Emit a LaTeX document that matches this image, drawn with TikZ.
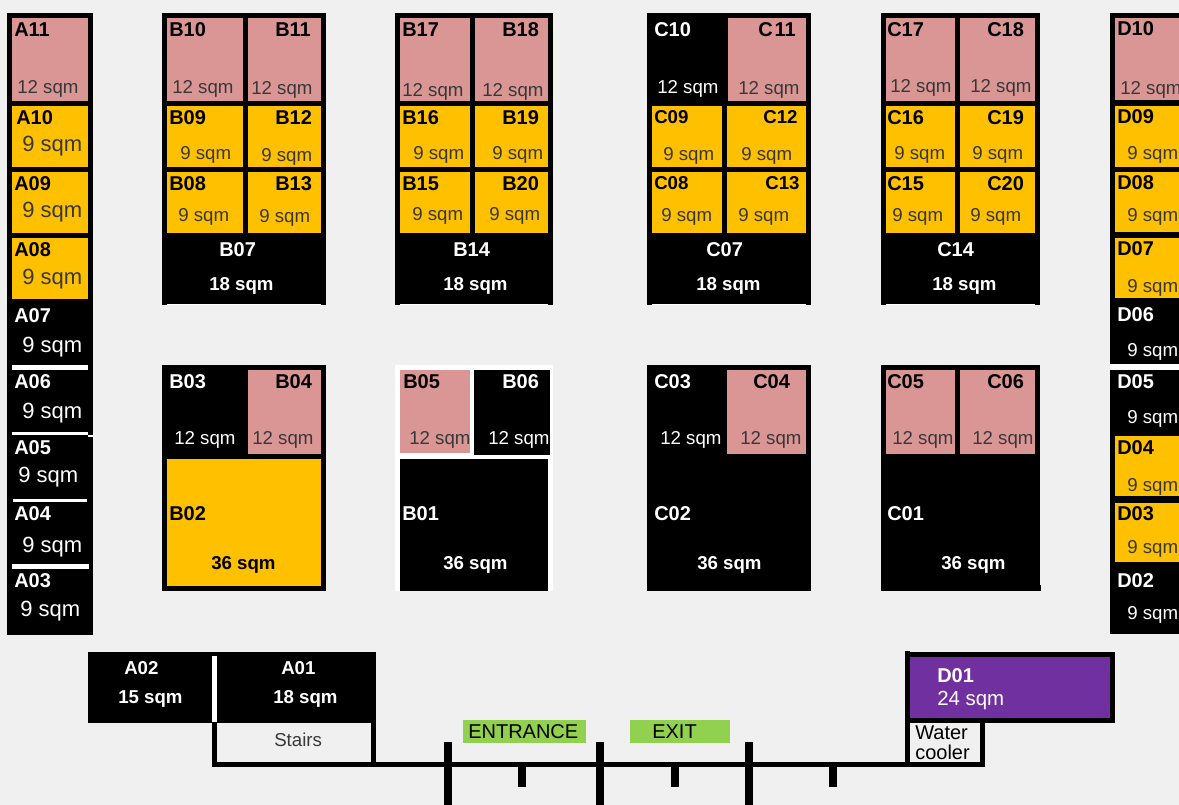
\documentclass[tikz,border=0pt]{standalone}
\usepackage{fontspec}
\setmainfont{Liberation Sans}
\definecolor{hallgrey}{RGB}{240,240,240}
\definecolor{stallpink}{RGB}{218,150,148}
\definecolor{stallamber}{RGB}{255,192,0}
\definecolor{stallpurple}{RGB}{112,48,160}
\definecolor{signgreen}{RGB}{146,208,80}
\definecolor{sqmgrey}{RGB}{56,56,56}
\tikzset{
x=0.75pt, % one unit is one pixel of the plan
y=-0.75pt,
box/.style 2 args={anchor=north west, inner sep=0pt, outer sep=0pt, minimum width=#1*0.75pt, minimum height=#2*0.75pt},
pink/.style={fill=stallpink},
amber/.style={fill=stallamber},
dark/.style={fill=black},
gap/.style={fill=white},
purple/.style={fill=stallpurple},
sign/.style={fill=signgreen},
tag/.style={anchor=base west, inner sep=0pt, yshift=-0.75pt, font=\bfseries\fontsize{15}{15}\selectfont}, % stall number
tagsmall/.style={tag, font=\bfseries\fontsize{14}{14}\selectfont},
area/.style={anchor=base west, inner sep=0pt, yshift=-0.75pt, text=sqmgrey, font=\fontsize{14}{14}\selectfont}, % size of the stall
areabig/.style={area, font=\fontsize{16.5}{16.5}\selectfont},
areabold/.style={anchor=base west, inner sep=0pt, yshift=-0.75pt, font=\bfseries\fontsize{14}{14}\selectfont},
wall/.style={line width=3.75pt},
post/.style={line width=6pt},
}
\begin{document}
\begin{tikzpicture}
      \useasboundingbox (0,0) rectangle (1179,805);
      \clip (0,0) rectangle (1179,805);
      \fill[hallgrey] (0,0) rectangle (1179,805);

      % row A
      \node[dark, box={86}{622}] (Arow) at (7,13) {};
      \node[pink, box={76}{83}] (A11) at (12,18) {};
      \node[amber, box={76}{61}] (A10) at (12,106) {};
      \node[amber, box={76}{61}] (A09) at (12,172) {};
      \node[amber, box={76}{61}] (A08) at (12,238) {};
      \node[gap, box={76}{5}] (A67) at (12,365) {};
      \node[gap, box={76}{3}] (A56) at (12,432) {};
      \node[gap, box={5}{2}] (A56b) at (88,435) {};
      \node[gap, box={74}{3}] (A45) at (13,499) {};
      \node[gap, box={77}{5}] (A34) at (12,564) {};
      \node[tag] (tA11) at (14,36) {A11};
      \node[area] (sA11) at (17,93) {12 sqm};
      \node[tag] (tA10) at (16,124) {A10};
      \node[areabig] (sA10) at (22,151) {9 sqm};
      \node[tag] (tA09) at (14,190) {A09};
      \node[areabig] (sA09) at (22,217) {9 sqm};
      \node[tag] (tA08) at (14,256) {A08};
      \node[areabig] (sA08) at (22,284) {9 sqm};
      \node[tag, white] (tA07) at (14,322) {A07};
      \node[areabig, text=white] (sA07) at (22,352) {9 sqm};
      \node[tag, white] (tA06) at (14,388) {A06};
      \node[areabig, text=white] (sA06) at (22,418) {9 sqm};
      \node[tag, white] (tA05) at (14,454) {A05};
      \node[areabig, text=white] (sA05) at (18,482) {9 sqm};
      \node[tag, white] (tA04) at (14,520) {A04};
      \node[areabig, text=white] (sA04) at (22,552) {9 sqm};
      \node[tag, white] (tA03) at (14,586) {A03};
      \node[areabig, text=white] (sA03) at (20,616) {9 sqm};

      % block B07
      \node[dark, box={164}{292}] (Bup) at (162,13) {};
      \node[gap, box={154}{1}] (Bupedge) at (167,304) {};
      \node[pink, box={76}{83}] (B10) at (167,18) {};
      \node[pink, box={73}{83}] (B11) at (248,18) {};
      \node[amber, box={76}{61}] (B09) at (167,106) {};
      \node[amber, box={73}{61}] (B12) at (248,106) {};
      \node[amber, box={76}{61}] (B08) at (167,172) {};
      \node[amber, box={73}{61}] (B13) at (248,172) {};
      \node[tag] (tB10) at (169,36) {B10};
      \node[area] (sB10) at (172,93) {12 sqm};
      \node[tag] (tB11) at (275,36) {B11};
      \node[area] (sB11) at (251,94) {12 sqm};
      \node[tag] (tB09) at (169,124) {B09};
      \node[area] (sB09) at (180,159) {9 sqm};
      \node[tag] (tB12) at (275,124) {B12};
      \node[area] (sB12) at (261,161) {9 sqm};
      \node[tag] (tB08) at (169,190) {B08};
      \node[area] (sB08) at (178,221) {9 sqm};
      \node[tag] (tB13) at (275,190) {B13};
      \node[area] (sB13) at (259,222) {9 sqm};
      \node[tag, white] (tB07) at (219,256) {B07};
      \node[areabold, white] (sB07) at (209,290) {18 sqm};

      % block B14
      \node[dark, box={158}{292}] (Cup) at (395,13) {};
      \node[gap, box={148}{1}] (Cupedge) at (400,304) {};
      \node[pink, box={70}{83}] (B17) at (400,18) {};
      \node[pink, box={73}{83}] (B18) at (475,18) {};
      \node[amber, box={70}{61}] (B16) at (400,106) {};
      \node[amber, box={73}{61}] (B19) at (475,106) {};
      \node[amber, box={70}{61}] (B15) at (400,172) {};
      \node[amber, box={73}{61}] (B20) at (475,172) {};
      \node[tag] (tB17) at (402,36) {B17};
      \node[area] (sB17) at (402,96) {12 sqm};
      \node[tag] (tB18) at (502,36) {B18};
      \node[area] (sB18) at (482,96) {12 sqm};
      \node[tag] (tB16) at (402,124) {B16};
      \node[area] (sB16) at (413,159) {9 sqm};
      \node[tag] (tB19) at (502,124) {B19};
      \node[area] (sB19) at (492,159) {9 sqm};
      \node[tag] (tB15) at (402,190) {B15};
      \node[area] (sB15) at (412,220) {9 sqm};
      \node[tag] (tB20) at (502,190) {B20};
      \node[area] (sB20) at (489,220) {9 sqm};
      \node[tag, white] (tB14) at (453,256) {B14};
      \node[areabold, white] (sB14) at (443,290) {18 sqm};

      % block C07
      \node[dark, box={164}{292}] (Dup) at (647,13) {};
      \node[gap, box={154}{1}] (Dupedge) at (652,304) {};
      \node[pink, box={78}{83}] (C11) at (728,18) {};
      \node[amber, box={70}{61}] (C09) at (652,106) {};
      \node[amber, box={79}{61}] (C12) at (727,106) {};
      \node[amber, box={70}{61}] (C08) at (652,172) {};
      \node[amber, box={79}{61}] (C13) at (727,172) {};
      \node[tag, white] (tC10) at (654,36) {C10};
      \node[area, text=white] (sC10) at (657,93) {12 sqm};
      \node[tag] (tC11) at (758,36) {C\kern1.5pt 11};
      \node[area] (sC11) at (738,94) {12 sqm};
      \node[tagsmall] (tC09) at (654,123) {C09};
      \node[area] (sC09) at (663,160) {9 sqm};
      \node[tagsmall] (tC12) at (763,123) {C12};
      \node[area] (sC12) at (741,160) {9 sqm};
      \node[tagsmall] (tC08) at (654,189) {C08};
      \node[area] (sC08) at (661,221) {9 sqm};
      \node[tagsmall] (tC13) at (765,189) {C13};
      \node[area] (sC13) at (738,221) {9 sqm};
      \node[tag, white] (tC07) at (706,256) {C07};
      \node[areabold, white] (sC07) at (696,290) {18 sqm};

      % block C14
      \node[dark, box={159}{292}] (Eup) at (881,13) {};
      \node[gap, box={149}{1}] (Eupedge) at (886,304) {};
      \node[pink, box={69}{83}] (C17) at (886,18) {};
      \node[pink, box={75}{83}] (C18) at (960,18) {};
      \node[amber, box={69}{61}] (C16) at (886,106) {};
      \node[amber, box={75}{61}] (C19) at (960,106) {};
      \node[amber, box={69}{61}] (C15) at (886,172) {};
      \node[amber, box={75}{61}] (C20) at (960,172) {};
      \node[tag] (tC17) at (887,36) {C17};
      \node[area] (sC17) at (890,92) {12 sqm};
      \node[tag] (tC18) at (987,36) {C18};
      \node[area] (sC18) at (970,92) {12 sqm};
      \node[tag] (tC16) at (887,124) {C16};
      \node[area] (sC16) at (894,159) {9 sqm};
      \node[tag] (tC19) at (987,124) {C19};
      \node[area] (sC19) at (972,159) {9 sqm};
      \node[tag] (tC15) at (887,190) {C15};
      \node[area] (sC15) at (892,221) {9 sqm};
      \node[tag] (tC20) at (987,190) {C20};
      \node[area] (sC20) at (970,221) {9 sqm};
      \node[tag, white] (tC14) at (937,256) {C14};
      \node[areabold, white] (sC14) at (932,290) {18 sqm};

      % lower blocks
      \node[dark, box={164}{226}] (Blow) at (162,365) {};
      \node[pink, box={73}{84}] (B04) at (248,370) {};
      \node[amber, box={154}{127}] (B02) at (167,459) {};
      \node[tag, white] (tB03) at (169,388) {B03};
      \node[area, text=white] (sB03) at (174,444) {12 sqm};
      \node[tag] (tB04) at (275,388) {B04};
      \node[area] (sB04) at (252,444) {12 sqm};
      \node[tag] (tB02) at (169,520) {B02};
      \node[areabold] (sB02) at (211,569) {36 sqm};

      \node[gap, box={158}{226}] (Clow) at (395,365) {};
      \node[pink, box={70}{83}] (B05) at (400,370) {};
      \node[dark, box={76}{85}] (B06) at (474,370) {};
      \node[dark, box={148}{132}] (B01) at (400,459) {};
      \node[tag] (tB05) at (403,388) {B05};
      \node[area] (sB05) at (409,444) {12 sqm};
      \node[tag, white] (tB06) at (502,388) {B06};
      \node[area, text=white] (sB06) at (488,444) {12 sqm};
      \node[tag, white] (tB01) at (402,520) {B01};
      \node[areabold, white] (sB01) at (443,569) {36 sqm};

      \node[dark, box={164}{226}] (Dlow) at (647,365) {};
      \node[pink, box={79}{84}] (C04) at (727,370) {};
      \node[tag, white] (tC03) at (654,388) {C03};
      \node[area, text=white] (sC03) at (660,444) {12 sqm};
      \node[tag] (tC04) at (753,388) {C04};
      \node[area] (sC04) at (740,444) {12 sqm};
      \node[tag, white] (tC02) at (654,520) {C02};
      \node[areabold, white] (sC02) at (697,569) {36 sqm};

      \node[dark, box={159}{226}] (Elow) at (881,365) {};
      \node[dark, box={1}{6}] (Elowb) at (1040,585) {};
      \node[pink, box={69}{84}] (C05) at (886,370) {};
      \node[pink, box={75}{84}] (C06) at (960,370) {};
      \node[tag] (tC05) at (887,388) {C05};
      \node[area] (sC05) at (892,444) {12 sqm};
      \node[tag] (tC06) at (987,388) {C06};
      \node[area] (sC06) at (972,444) {12 sqm};
      \node[tag, white] (tC01) at (887,520) {C01};
      \node[areabold, white] (sC01) at (941,569) {36 sqm};

      % row D
      \node[dark, box={69}{621}] (Drow) at (1110,13) {};
      \node[pink, box={64}{82}] (D10) at (1115,18) {};
      \node[amber, box={64}{61}] (D09) at (1115,106) {};
      \node[amber, box={64}{60}] (D08) at (1115,172) {};
      \node[amber, box={64}{60}] (D07) at (1115,238) {};
      \node[gap, box={69}{6}] (D56) at (1110,364) {};
      \node[amber, box={64}{60}] (D04) at (1115,436) {};
      \node[amber, box={64}{59}] (D03) at (1115,503) {};
      \node[tag] (tD10) at (1117,35) {D10};
      \node[area] (sD10) at (1120,94) {12 sqm};
      \node[tag] (tD09) at (1117,123) {D09};
      \node[area] (sD09) at (1127,159) {9 sqm};
      \node[tag] (tD08) at (1117,189) {D08};
      \node[area] (sD08) at (1127,221) {9 sqm};
      \node[tag] (tD07) at (1117,255) {D07};
      \node[area] (sD07) at (1127,292) {9 sqm};
      \node[tag, white] (tD06) at (1117,321) {D06};
      \node[area, text=white] (sD06) at (1127,356) {9 sqm};
      \node[tag, white] (tD05) at (1117,388) {D05};
      \node[area, text=white] (sD05) at (1127,423) {9 sqm};
      \node[tag] (tD04) at (1117,454) {D04};
      \node[area] (sD04) at (1127,491) {9 sqm};
      \node[tag] (tD03) at (1117,520) {D03};
      \node[area] (sD03) at (1127,553) {9 sqm};
      \node[tag, white] (tD02) at (1117,586) {D02};
      \node[area, text=white] (sD02) at (1127,618) {9 sqm};

      % front row
      \node[dark, box={129}{71}] (A02) at (88,652) {};
      \node[dark, box={159}{71}] (A01) at (217,652) {};
      \node[gap, box={5}{66}] (A12) at (212,656) {};
      \node[tag, white, font=\bfseries\fontsize{14}{14}\selectfont] (tA02) at (124,673) {A02};
      \node[areabold, white] (sA02) at (118,702) {15 sqm};
      \node[tag, white, font=\bfseries\fontsize{14}{14}\selectfont] (tA01) at (281,673) {A01};
      \node[areabold, white] (sA01) at (273,702) {18 sqm};
      \node[area, font=\fontsize{14}{14}\selectfont] (stairs) at (274,745) {Stairs};
      \node[dark, box={210}{71}] (Dback) at (905,652) {};
      \node[dark, box={5}{1}] (Dbackb) at (905,651) {};
      \node[purple, box={200}{61}] (D01) at (910,657) {};
      \node[tag, white] (tD01) at (937,681) {D01};
      \node[area, text=white, font=\fontsize{15.3}{15.3}\selectfont] (sD01) at (937,704) {24 sqm};
      \node[sign, box={123}{23}] (entbox) at (463,720) {};
      \node[sign, box={100}{23}] (exitbox) at (630,720) {};
      \node[area, text=black, font=\fontsize{15}{15}\selectfont] (entrance) at (468,737) {ENTRANCE};
      \node[area, text=black, font=\fontsize{15}{15}\selectfont] (exit) at (652,737) {EXIT};
      \node[anchor=north west, inner sep=0pt, align=left, font=\fontsize{15}{15.5}\selectfont] (water) at (915,725) {Water\\cooler};

      % walls and posts
      \coordinate (stairsa) at (214.5,723);
      \coordinate (stairsb) at (214.5,764.5);
      \coordinate (stairsc) at (373.5,723);
      \coordinate (stairsd) at (373.5,764.5);
      \coordinate (coolera) at (907.5,723);
      \coordinate (coolerb) at (907.5,764.5);
      \coordinate (coolerc) at (982.5,723);
      \coordinate (coolerd) at (982.5,767);
      \coordinate (corner) at (985,764.5);
      \draw[wall] (stairsa) -- (stairsb);
      \draw[wall] (stairsc) -- (stairsd);
      \draw[wall] (coolera) -- (coolerb);
      \draw[wall] (coolerc) -- (coolerd);
      \draw[wall] ([xshift=-1.875pt]stairsb) -- (corner);
      \coordinate (posta) at (448,742);
      \coordinate (postb) at (448,805);
      \coordinate (postc) at (600,742);
      \coordinate (postd) at (600,805);
      \coordinate (poste) at (749,742);
      \coordinate (postf) at (749,805);
      \coordinate (ticka) at (522,767);
      \coordinate (tickb) at (522,787);
      \coordinate (tickc) at (675,767);
      \coordinate (tickd) at (675,787);
      \coordinate (ticke) at (833,767);
      \coordinate (tickf) at (833,787);
      \draw[post] (posta) -- (postb);
      \draw[post] (postc) -- (postd);
      \draw[post] (poste) -- (postf);
      \draw[post] (ticka) -- (tickb);
      \draw[post] (tickc) -- (tickd);
      \draw[post] (ticke) -- (tickf);
\end{tikzpicture}
\end{document}
